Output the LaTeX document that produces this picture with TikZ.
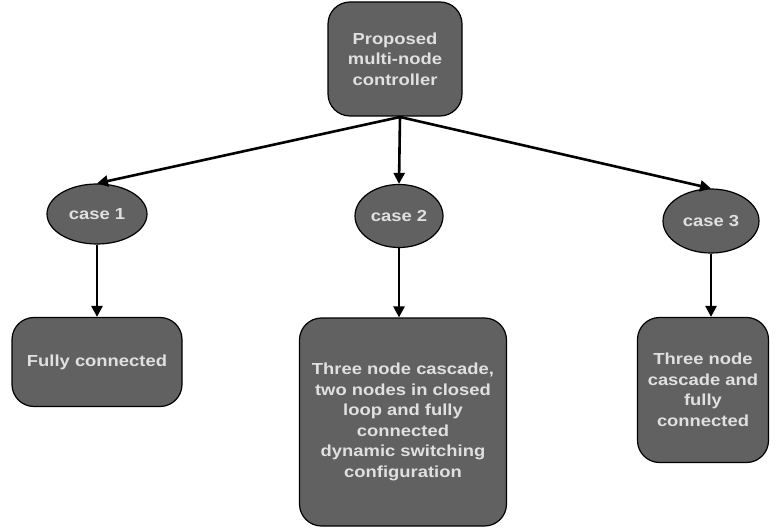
\documentclass[tikz,border=0pt]{standalone}
\usepackage{fontspec}
\setmainfont{Liberation Sans}
\newfontfamily\widefont[FakeStretch=1.15]{Liberation Sans}
\usetikzlibrary{arrows.meta,shapes.geometric}
\begin{document}
\begin{tikzpicture}[x=1pt,y=-1pt,
  boxstyle/.style={draw=black,line width=1.2pt,fill=black!62,text=black!12,rounded corners=22pt,align=center,font=\widefont\bfseries\fontsize{16}{20.5}\selectfont,inner sep=0pt},
  casestyle/.style={ellipse,draw=black,line width=1.2pt,fill=black!62,text=black!12,font=\widefont\bfseries\fontsize{16}{18}\selectfont,inner sep=0pt},
  arr/.style={line width=2.6pt,-{Triangle[length=11pt,width=11pt]}}]
\useasboundingbox (0,0) rectangle (776,529);
\node[boxstyle,minimum width=134pt,minimum height=114pt] (top) at (395,59) {Proposed\\multi-node\\controller};
\node[casestyle,minimum width=100pt,minimum height=60pt] (c1) at (97,214) {case 1};
\node[casestyle,minimum width=88pt,minimum height=63pt] (c2) at (399,216) {case 2};
\node[casestyle,minimum width=96pt,minimum height=64pt] (c3) at (711,221) {case 3};
\node[boxstyle,minimum width=170pt,minimum height=89pt] (b1) at (97,362) {Fully connected};
\node[boxstyle,minimum width=207pt,minimum height=208pt] (b2) at (403,422) {Three node cascade,\\two nodes in closed\\loop and fully\\connected\\dynamic switching\\configuration};
\node[boxstyle,minimum width=131pt,minimum height=145pt] (b3) at (703,390) {Three node\\cascade and\\fully\\connected};
\coordinate (s) at (400,117);
\draw[arr] (s) -- (c1.north);
\draw[arr] (s) -- (c2.north);
\draw[arr] (s) -- (c3.north);
\draw[arr] (c1.south) -- (b1.north);
\draw[arr] (c2.south) -- (c2.south |- b2.north);
\draw[arr] (c3.south) -- (c3.south |- b3.north);
\end{tikzpicture}
\end{document}
